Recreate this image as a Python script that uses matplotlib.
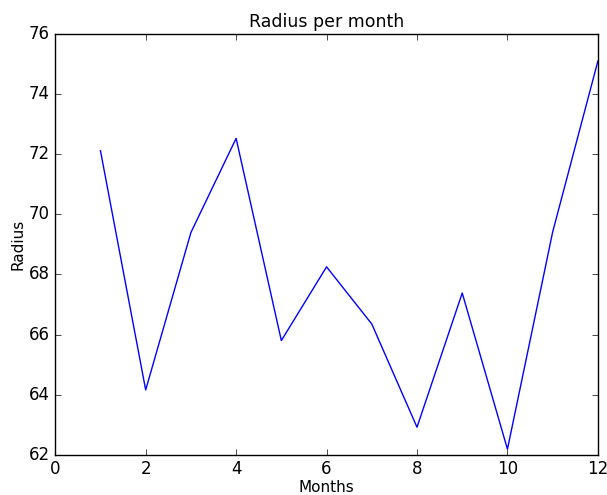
import matplotlib
matplotlib.use("Agg")
from matplotlib import pyplot as plt

months = [1, 2, 3, 4, 5, 6, 7, 8, 9, 10, 11, 12]
radius = [72.11, 64.16, 69.39, 72.52, 65.80, 68.25, 66.35, 62.92, 67.38, 62.19, 69.41, 75.09]

plt.style.use("classic")

fig = plt.figure(figsize=(6.07, 4.95), dpi=100)
fig.patch.set_facecolor("white")
ax = fig.add_subplot(111)
fig.subplots_adjust(left=0.091, right=0.985, top=0.932, bottom=0.081)

ax.plot(months, radius, color="b", linewidth=1)
ax.set_xlim(0, 12)
ax.set_ylim(62, 76)
ax.set_title("Radius per month", fontsize=12.5, pad=5)
ax.set_xlabel("Months", fontsize=11, labelpad=1)
ax.set_ylabel("Radius", fontsize=11, labelpad=2)
ax.tick_params(labelsize=12)

fig.savefig("out.png", dpi=100, facecolor="white")
